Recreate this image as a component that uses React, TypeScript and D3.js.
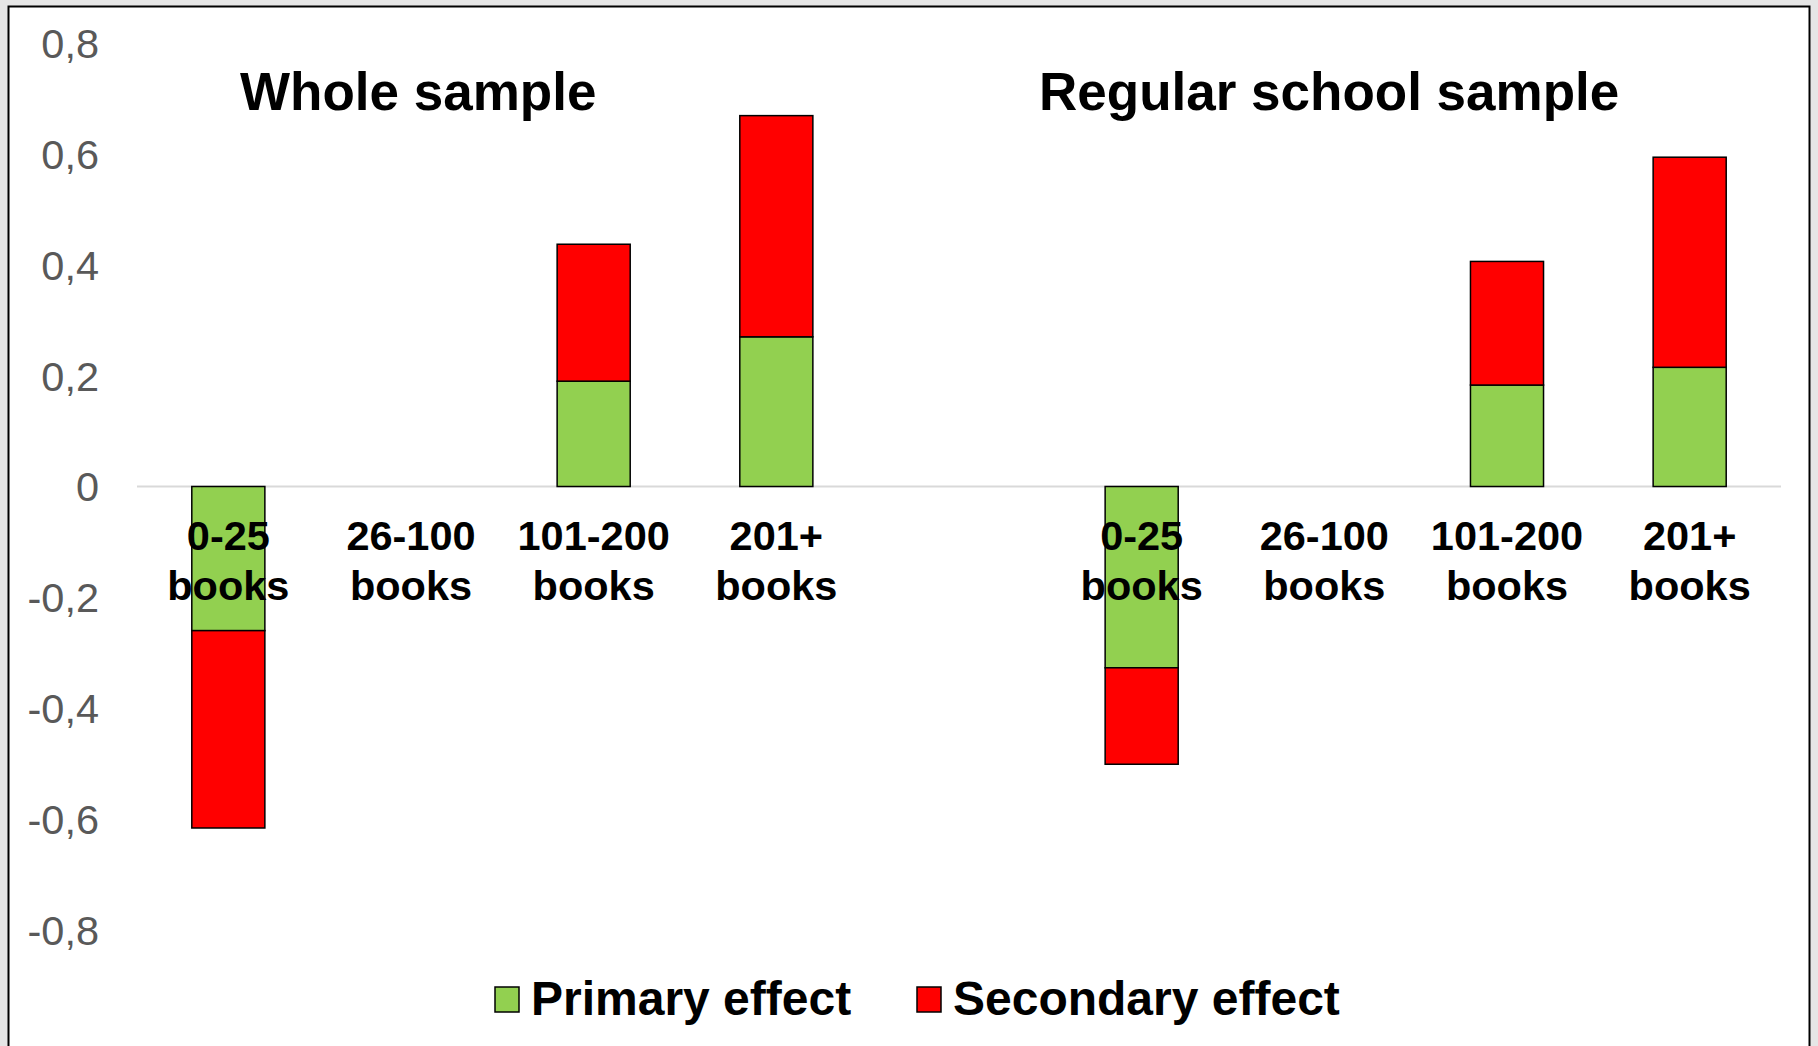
import React from "react";
import * as d3 from "d3";

const groups = ["Whole sample", "Regular school sample"];
const categories = ["0-25 books", "26-100 books", "101-200 books", "201+ books"];
const primaryWhole = [-0.26, 0, 0.19, 0.27];
const secondaryWhole = [-0.356, 0, 0.247, 0.399];
const primaryRegular = [-0.327, 0, 0.183, 0.215];
const secondaryRegular = [-0.174, 0, 0.223, 0.379];
const yTicks = [0.8, 0.6, 0.4, 0.2, 0, -0.2, -0.4, -0.6, -0.8];
const seriesNames = ["Primary effect", "Secondary effect"];
const seriesColors = ["#92d050", "#ff0000"];

const W = 1818;
const H = 1046;

export default function App() {
  const slots: string[] = [];
  groups.forEach((g, gi) => {
    categories.forEach((c) => slots.push(g + "|" + c));
    if (gi < groups.length - 1) slots.push("gap");
  });
  const x = d3.scaleBand<string>().domain(slots).range([137, 1781]).paddingInner(0.6).paddingOuter(0.3);
  const y = d3.scaleLinear().domain([-0.8, 0.8]).range([930, 43]);
  const fmt = (v: number) => (v === 0 ? "0" : d3.format(".1f")(v).replace(".", ",").replace("−", "-"));

  const data = [
    { group: groups[0], primary: primaryWhole, secondary: secondaryWhole },
    { group: groups[1], primary: primaryRegular, secondary: secondaryRegular },
  ];

  const rects: React.ReactNode[] = [];
  const labels: React.ReactNode[] = [];
  data.forEach((d) => {
    categories.forEach((c, i) => {
      const key = d.group + "|" + c;
      const x0 = x(key)!;
      const bw = x.bandwidth();
      const p = d.primary[i];
      const s = d.secondary[i];
      if (p !== 0) {
        rects.push(
          <rect key={key + "p"} x={x0} width={bw} y={y(Math.max(0, p))} height={Math.abs(y(p) - y(0))}
            fill={seriesColors[0]} stroke="#000" strokeWidth={1.5} />
        );
      }
      if (s !== 0) {
        const a = p, b = p + s;
        rects.push(
          <rect key={key + "s"} x={x0} width={bw} y={y(Math.max(a, b))} height={Math.abs(y(a) - y(b))}
            fill={seriesColors[1]} stroke="#000" strokeWidth={1.5} />
        );
      }
      const parts = c.split(" ");
      labels.push(
        <text key={key + "l"} x={x0 + bw / 2} textAnchor="middle" fontFamily="'Liberation Sans', Arial, sans-serif"
          fontWeight="bold" fontSize={41.5} fill="#000">
          <tspan x={x0 + bw / 2} y={550}>{parts[0]}</tspan>
          <tspan x={x0 + bw / 2} y={600}>{parts[1]}</tspan>
        </text>
      );
    });
  });

  return (
    <svg width={W} height={H} style={{ position: "absolute", left: 0, top: 0 }}>
      <rect x={0} y={0} width={W} height={H} fill="#e6e6e6" />
      <rect x={8.5} y={6.5} width={1801} height={1060} fill="#fff" stroke="#000" strokeWidth={2} />
      <line x1={137} x2={1781} y1={y(0)} y2={y(0)} stroke="#d9d9d9" strokeWidth={2} />
      {yTicks.map((t) => (
        <text key={t} x={99} y={y(t)} dy="0.36em" textAnchor="end" fontFamily="'Liberation Sans', Arial, sans-serif"
          fontSize={41.5} fill="#595959">{fmt(t)}</text>
      ))}
      {rects}
      {labels}
      <text x={240} y={110} fontFamily="'Liberation Sans', Arial, sans-serif" fontWeight="bold" fontSize={53} fill="#000">{groups[0]}</text>
      <text x={1039} y={110} fontFamily="'Liberation Sans', Arial, sans-serif" fontWeight="bold" fontSize={53} fill="#000">{groups[1]}</text>
      {seriesNames.map((n, i) => {
        const sx = [495, 917][i];
        return (
          <g key={n}>
            <rect x={sx} y={987} width={24} height={25} fill={seriesColors[i]} stroke="#000" strokeWidth={1.5} />
            <text x={sx + 36} y={1015} fontFamily="'Liberation Sans', Arial, sans-serif" fontWeight="bold" fontSize={48} fill="#000">{n}</text>
          </g>
        );
      })}
    </svg>
  );
}
